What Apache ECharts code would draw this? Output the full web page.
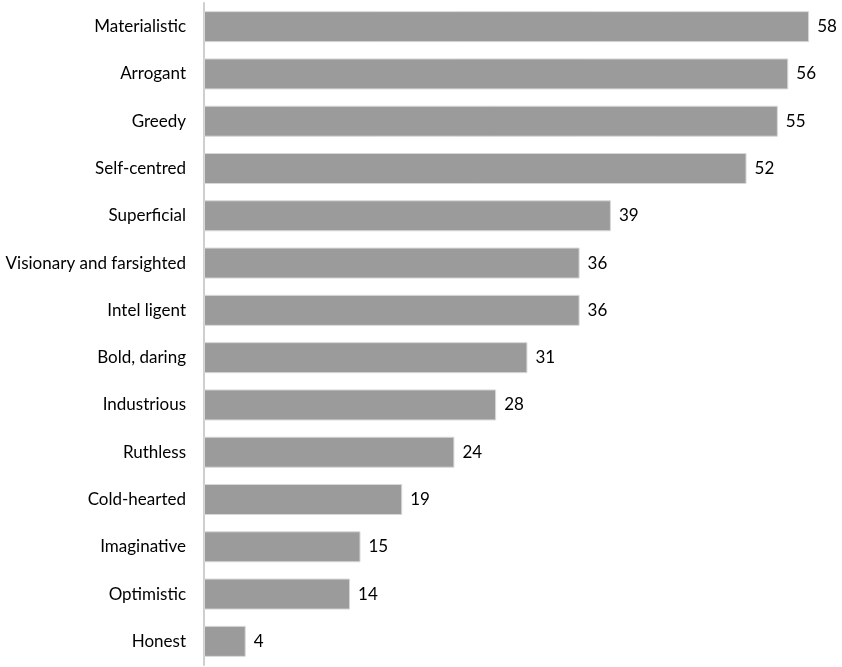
<!DOCTYPE html>
<html>
<head>
<meta charset="utf-8">
<script src="https://cdn.jsdelivr.net/npm/echarts@6/dist/echarts.min.js"></script>
<style>
  html, body { margin: 0; padding: 0; background: #fff; }
  #chart { width: 842px; height: 667px; }
</style>
</head>
<body>
<div id="chart"></div>
<script>
// Traits, listed top to bottom
const traits = [
  'Materialistic', 'Arrogant', 'Greedy', 'Self-centred', 'Superficial',
  'Visionary and farsighted', 'Intel ligent', 'Bold, daring', 'Industrious',
  'Ruthless', 'Cold-hearted', 'Imaginative', 'Optimistic', 'Honest'
];
// Share of respondents for each trait
const shares = [58, 56, 55, 52, 39, 36, 36, 31, 28, 24, 19, 15, 14, 4];

const textFont = 'Lato, "Open Sans", sans-serif';

const chart = echarts.init(document.getElementById('chart'));
chart.setOption({
  animation: false,
  grid: { left: 204, right: 12, top: 3, bottom: 2, containLabel: false },
  xAxis: {
    type: 'value', min: 0, max: 60,
    show: false
  },
  yAxis: {
    type: 'category',
    data: traits,
    inverse: true,
    axisLine: { show: true, lineStyle: { color: '#cfcfcf', width: 2 } },
    axisTick: { show: false },
    axisLabel: {
      color: '#000', fontSize: 17, fontFamily: textFont,
      margin: 18
    }
  },
  series: [{
    type: 'bar',
    data: shares,
    barWidth: 31,
    itemStyle: { color: '#9b9b9b', borderColor: '#d8d8d8', borderWidth: 1 },
    label: {
      show: true, position: 'right', distance: 8,
      color: '#000', fontSize: 17, fontFamily: textFont
    }
  }]
});
</script>
</body>
</html>
